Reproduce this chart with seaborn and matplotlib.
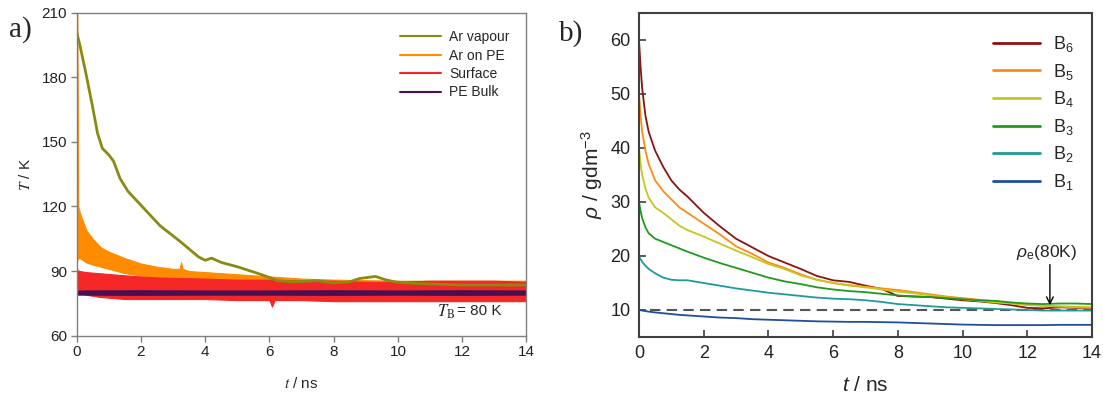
import numpy as np
import pandas as pd
import matplotlib
matplotlib.use('Agg')
import matplotlib.pyplot as plt
from matplotlib.lines import Line2D
import seaborn as sns

# ---- panel a) temperatures, K ----
t_vap = [0, 0.1, 0.3, 0.5, 0.65, 0.8, 1.0, 1.15, 1.35, 1.6, 2.1, 2.6, 3.2, 3.8, 4.0, 4.2,
         4.5, 5.0, 5.7, 6.0, 6.25, 6.75, 7.5, 8.0, 8.5, 8.8, 9.3, 9.6, 9.9, 10.2, 11, 12, 13, 14]
T_vap = [201, 195, 181, 166, 154, 147, 144, 141, 133, 127, 119, 111, 104, 96.5, 95, 96,
         94, 92, 88.6, 87, 85.5, 85, 85.5, 84.5, 85, 86.5, 87.5, 86, 85, 84.5, 84, 83.5, 83.5, 83.5]

t_pe = [0, 0.02, 0.05, 0.1, 0.2, 0.3, 0.5, 0.75, 1, 1.5, 2, 2.5, 3, 3.2, 3.25, 3.3, 3.5, 4,
        5, 6, 7, 8, 10, 12, 14]
pe_hi = [210, 210, 120, 117, 113, 109, 105, 101, 99, 96, 93.5, 92, 91, 91, 94, 91, 90, 89.5,
         88.5, 87.5, 86.5, 86, 85.5, 85.5, 85.5]
pe_lo = [95, 95, 96, 96, 95, 94, 93, 92, 91, 89, 88, 87, 86, 86, 86, 86, 85.5, 85,
         84.5, 84, 83.5, 83, 83, 83, 83]

t_surf = [0, 0.1, 0.3, 0.7, 1.5, 2.5, 4, 5, 6, 6.08, 6.16, 7, 8, 9, 10, 11, 12, 13, 14]
surf_hi = [90.5, 90, 89.5, 89, 88, 87, 86.5, 86, 86, 86, 86, 85.5, 85.5, 85, 85, 85.5, 85.5, 85.5, 85]
surf_lo = [83, 80, 79, 78, 77, 77, 77, 76.5, 76.5, 73.5, 76.5, 76.5, 76, 76, 76, 76, 76, 76, 76]

t_bulk = [0, 2, 4, 6, 8, 10, 12, 14]
bulk_hi = [81.0, 81.1, 81.0, 81.0, 81.1, 81.0, 81.1, 81.0]
bulk_lo = [79.0, 78.9, 79.0, 79.0, 78.9, 79.0, 78.9, 79.0]

# ---- panel b) densities, g/dm3 ----
t_b = [0, 0.05, 0.1, 0.2, 0.3, 0.5, 0.75, 1, 1.25, 1.5, 2, 2.5, 3, 3.5, 4, 4.5, 5, 5.5,
       6, 6.5, 7, 7.5, 8, 8.5, 9, 9.5, 10, 10.5, 11, 11.5, 12, 12.5, 13, 13.5, 14]
B6 = [60, 55, 51, 46, 43, 39.5, 36.5, 34, 32.3, 31, 28, 25.5, 23.2, 21.6, 20, 18.8, 17.6, 16.3,
      15.5, 15.2, 14.5, 13.9, 12.6, 12.5, 12.4, 12.1, 11.8, 11.6, 11.3, 10.9, 10.4, 10.3, 10.5, 10.4, 10.4]
B5 = [50, 46, 43, 39.5, 37, 34, 32, 30.5, 29, 28, 26, 24, 21.8, 20.4, 18.8, 17.8, 16.6, 15.6,
      15, 14.6, 14.3, 14, 13.7, 13.3, 12.9, 12.5, 12.2, 11.9, 11.6, 11.3, 11, 10.8, 10.6, 10.5, 10.4]
B4 = [40, 37, 35, 32.5, 30.8, 29, 28, 26.8, 25.6, 24.8, 23.6, 22.3, 21, 19.8, 18.5, 17.6, 16.4, 15.6,
      15, 14.5, 14.2, 13.8, 13.4, 13.1, 12.7, 12.4, 12, 11.7, 11.4, 11.2, 10.9, 10.8, 10.7, 10.6, 10.5]
B3 = [30, 28.3, 27, 25.3, 24.2, 23.2, 22.6, 22, 21.4, 20.8, 19.7, 18.7, 17.8, 16.9, 16, 15.3, 14.8, 14.2,
      13.8, 13.5, 13.3, 13, 12.7, 12.5, 12.4, 12.2, 12, 11.8, 11.7, 11.4, 11.2, 11.1, 11.2, 11.2, 11.1]
B2 = [20, 19.4, 18.9, 18.2, 17.6, 16.8, 16, 15.6, 15.5, 15.5, 15, 14.5, 14, 13.6, 13.2, 12.9, 12.6, 12.3,
      12.1, 12, 11.8, 11.5, 11.1, 10.9, 10.7, 10.5, 10.4, 10.3, 10.2, 10.1, 10, 9.9, 9.9, 9.9, 9.9]
B1 = [10, 9.95, 9.9, 9.8, 9.7, 9.55, 9.4, 9.25, 9.1, 9, 8.8, 8.6, 8.5, 8.3, 8.2, 8.1, 8, 7.9,
      7.85, 7.8, 7.8, 7.75, 7.7, 7.6, 7.5, 7.4, 7.3, 7.25, 7.2, 7.2, 7.2, 7.2, 7.25, 7.25, 7.25]

b_names = ['B$_6$', 'B$_5$', 'B$_4$', 'B$_3$', 'B$_2$', 'B$_1$']
b_colors = ['#8b1212', '#ff8a14', '#c6c61e', '#1f9a1f', '#1f9a9a', '#1f4e9a']

sns.set_theme(style='white')
plt.rcParams['font.family'] = ['Liberation Sans', 'DejaVu Sans']
plt.rcParams['mathtext.fontset'] = 'custom'
plt.rcParams['mathtext.rm'] = 'Liberation Sans'
plt.rcParams['mathtext.it'] = 'Liberation Sans:italic'

fig = plt.figure(figsize=(11.03, 4.0), dpi=100)
ax1 = fig.add_axes([0.0695, 0.161, 0.4078, 0.807])
ax2 = fig.add_axes([0.5793, 0.1575, 0.4107, 0.81])

# ---------- a) ----------
c_vap, c_pe, c_surf, c_bulk = '#8a8a12', '#ff8c00', '#f42626', '#4a0f52'
sns.lineplot(x=t_vap, y=T_vap, ax=ax1, color=c_vap, lw=2)
ax1.fill_between(t_pe, pe_lo, pe_hi, color=c_pe, lw=0.8, edgecolor=c_pe)
ax1.fill_between(t_surf, surf_lo, surf_hi, color=c_surf, lw=0.8, edgecolor=c_surf)
ax1.fill_between(t_bulk, bulk_lo, bulk_hi, color=c_bulk, lw=0.6, edgecolor=c_bulk)

ax1.set_xlim(0, 14)
ax1.set_ylim(60, 210)
ax1.set_xticks(range(0, 15, 2))
ax1.set_yticks(range(60, 211, 30))
ax1.tick_params(direction='out', length=4, width=1, color='#7f7f7f', bottom=True, left=True,
                labelsize=11, labelcolor='#222222', pad=3)
for s in ax1.spines.values():
    s.set_color('#7f7f7f')
    s.set_linewidth(1)
ax1.set_xlabel('$t$ / ns', fontsize=11, math_fontfamily='stix', labelpad=12)
ax1.set_ylabel('$T$ / K', fontsize=11, math_fontfamily='stix', labelpad=6)

handles = [Line2D([], [], color=c, lw=1.5) for c in [c_vap, c_pe, c_surf, c_bulk]]
ax1.legend(handles, ['Ar vapour', 'Ar on PE', 'Surface', 'PE Bulk'], loc='upper right',
           bbox_to_anchor=(0.99, 0.985), frameon=False, fontsize=10,
           handlelength=2.9, handletextpad=0.6, labelspacing=0.32)
ax1.text(11.2, 71, r'$T_{\mathrm{B}}$', fontsize=12, math_fontfamily='stix',
         ha='left', va='center')
ax1.text(11.85, 71.5, '= 80 K', fontsize=11, ha='left', va='center')
fig.text(0.008, 0.925, 'a)', fontsize=21, family='Liberation Serif', va='center')

# ---------- b) ----------
df = pd.DataFrame({
    't': t_b * 6,
    'rho': B6 + B5 + B4 + B3 + B2 + B1,
    'layer': [n for n in b_names for _ in t_b],
})
sns.lineplot(data=df, x='t', y='rho', hue='layer', hue_order=b_names,
             palette=b_colors, ax=ax2, lw=1.3)
ax2.plot([0.35, 14], [10, 10], ls=(0, (5, 3)), color='#555555', lw=1.5, zorder=1)

ax2.set_xlim(0, 14)
ax2.set_ylim(5, 65)
ax2.set_xticks(range(0, 15, 2))
ax2.set_yticks(range(10, 61, 10))
ax2.tick_params(direction='in', length=5, width=1.2, color='#404040', bottom=True, left=True,
                labelsize=13, labelcolor='#222222', pad=6)
for s in ax2.spines.values():
    s.set_color('#404040')
    s.set_linewidth(1.5)
ax2.set_xlabel('$t$ / ns', fontsize=15, labelpad=10)
ax2.set_ylabel(r'$\rho$ / gdm$^{-3}$', fontsize=15, labelpad=4)

leg = ax2.legend(loc='upper right', bbox_to_anchor=(0.995, 0.985), frameon=False,
                 fontsize=13, handlelength=2.6, handletextpad=0.7, labelspacing=0.42)
for line in leg.get_lines():
    line.set_linewidth(2)
ax2.annotate('', xy=(12.7, 10.9), xytext=(12.7, 18.4),
             arrowprops=dict(arrowstyle='->', color='black', lw=1,
                             shrinkA=0, shrinkB=0))
ax2.text(12.6, 20.6, r'$\rho_{\mathrm{e}}$(80K)', fontsize=12.5, ha='center', va='center')
fig.text(0.507, 0.915, 'b)', fontsize=21, family='Liberation Serif', va='center')

fig.savefig('out.png', dpi=100)
